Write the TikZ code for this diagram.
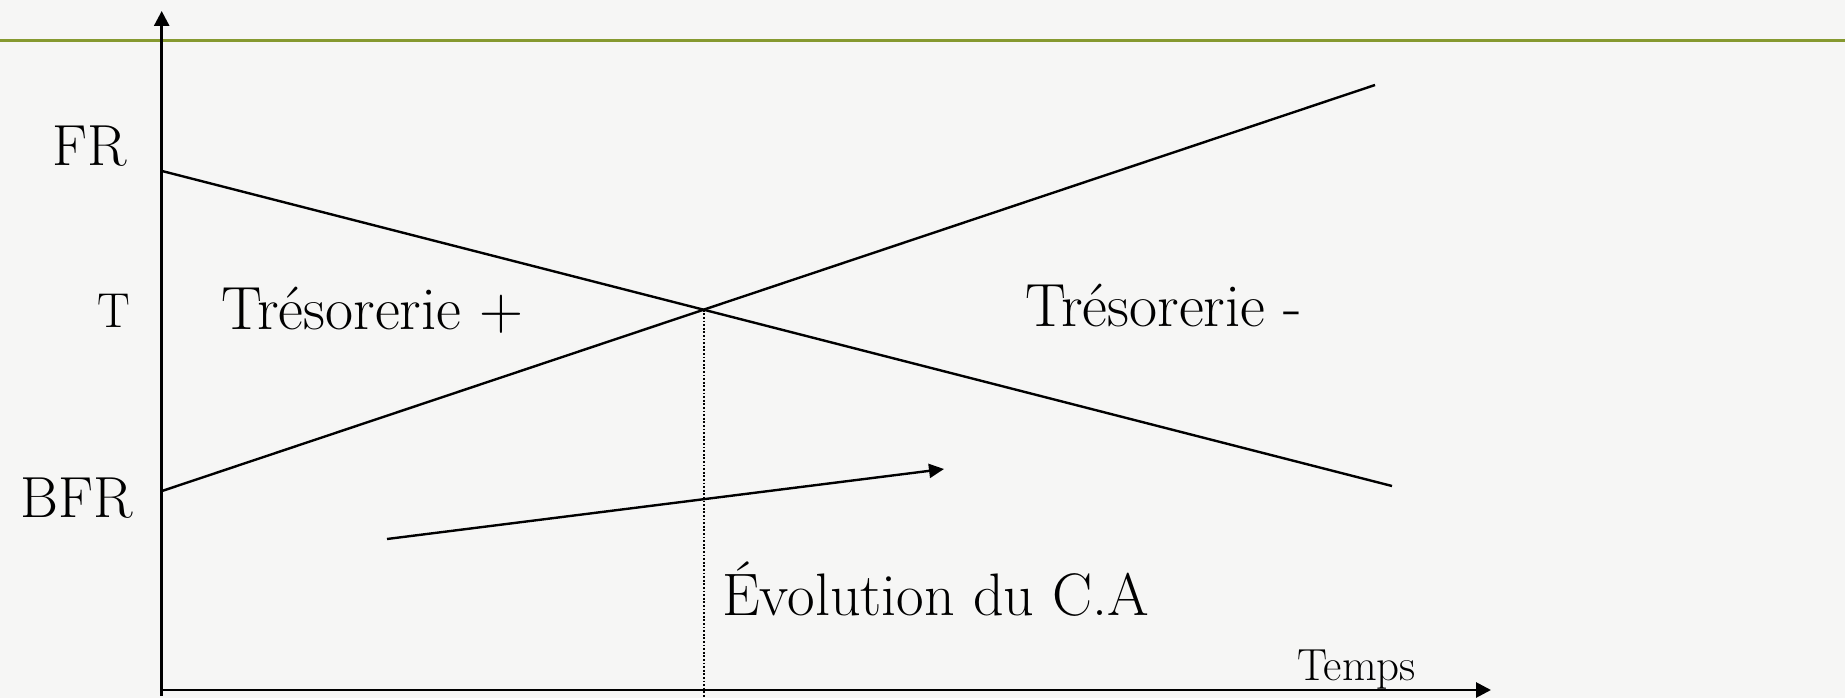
\documentclass[tikz,border=0pt]{standalone}
\usetikzlibrary{arrows.meta,intersections}
\definecolor{bgpaper}{RGB}{246,246,245}
\definecolor{olive}{RGB}{134,153,48}
\begin{document}
\begin{tikzpicture}[x=1pt,y=-1pt,
  axisline/.style={line width=2.8pt,-{Triangle[length=15pt,width=15pt]}},
  curve/.style={line width=2.4pt},
  lbl/.style={inner sep=0pt,anchor=base west,font=\fontsize{58}{64}\selectfont},
  dotline/.style={line width=2pt,dash pattern=on 1.8pt off 1.8pt}]
\fill[bgpaper] (0,0) rectangle (1845,698);
\useasboundingbox (0,0) rectangle (1845,698);
% green rule
\coordinate (gl) at (0,40.7);
\coordinate (gr) at (1845,40.7);
\draw[olive,line width=3.2pt] (gl) -- (gr);
% axes
\coordinate (ybot) at (161.7,696);
\coordinate (ytop) at (161.7,11);
\coordinate (xleft) at (161.7,690);
\coordinate (xright) at (1491,690);
\draw[axisline] (ybot) -- (ytop);
\draw[axisline] (xleft) -- (xright);
% lines
\coordinate (fr0) at (162,171);
\coordinate (fr1) at (1392,486);
\coordinate (bfr0) at (162,491);
\coordinate (bfr1) at (1375,85);
\draw[curve,name path=frline] (fr0) -- (fr1);
\draw[curve,name path=bfrline] (bfr0) -- (bfr1);
\path[name intersections={of=frline and bfrline,by=X}];
\coordinate (xbot) at (X |- 0,698);
\draw[dotline] (X) -- (xbot);
% CA arrow
\coordinate (ca0) at (387,539);
\coordinate (ca1) at (944,469);
\draw[curve,-{Triangle[length=15pt,width=14pt]}] (ca0) -- (ca1);
% labels
\node[lbl] (FR) at (52,166) {FR};
\node[lbl,font=\fontsize{49}{55}\selectfont] (T) at (97,327) {T};
\node[lbl] (BFR) at (20,517) {BFR};
\node[lbl,font=\fontsize{61}{67}\selectfont] (tp) at (221,329) {Trésorerie +};
\node[lbl,font=\fontsize{61}{67}\selectfont] (tm) at (1025,326) {Trésorerie -};
\node[lbl,font=\fontsize{60}{66}\selectfont] (ca) at (722,615) {Évolution du C.A};
\node[lbl,font=\fontsize{45}{51}\selectfont] (tps) at (1297,680) {Temps};
\end{tikzpicture}
\end{document}
